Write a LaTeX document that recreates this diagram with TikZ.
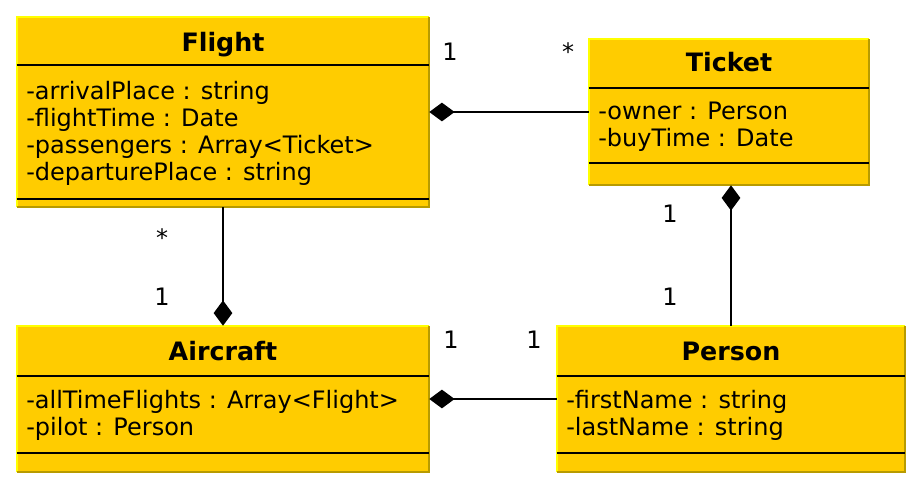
\documentclass[tikz,border=0pt]{standalone}
\usepackage{fontspec}
\setmainfont{DejaVu Sans}
\usetikzlibrary{arrows.meta}
\definecolor{umlfill}{HTML}{FFCC00}
\definecolor{umllight}{HTML}{FFFF00}
\definecolor{umlshade}{HTML}{B89B00}

\begin{document}
\begin{tikzpicture}[
    x=0.75pt, y=-0.75pt,
    font=\fontsize{18}{20.25}\selectfont,
    classbox/.style={fill=umlfill, inner sep=0pt},
    title/.style={anchor=base, inner sep=0pt, font=\fontsize{19}{22}\selectfont\bfseries},
    attrs/.style={anchor=base west, align=left, inner sep=0pt},
    mult/.style={anchor=base, inner sep=0pt},
    sep/.style={line width=1pt},
    assoc/.style={line width=1.1pt, -{Diamond[length=19pt, width=14pt]}},
  ]
    \useasboundingbox (0,0) rectangle (922,490);

    % classes
    \node[classbox, minimum width=309pt, minimum height=142.5pt] (flight)   at (223,112) {};
    \node[classbox, minimum width=210pt, minimum height=109.5pt] (ticket)   at (729,112) {};
    \node[classbox, minimum width=309pt, minimum height=109.5pt] (aircraft) at (223,399) {};
    \node[classbox, minimum width=261pt, minimum height=109.5pt] (person)   at (731,399) {};

    \foreach \c in {flight, ticket, aircraft, person} {
      \draw[umllight, line width=1.4pt] (\c.south west) |- (\c.north east);
      \draw[umlshade, line width=1.4pt] (\c.north east) |- (\c.south west);
    }

    % compartments
    \draw[sep] (flight.west |- 0,65) -- (flight.east |- 0,65);
    \draw[sep] (flight.west |- 0,199) -- (flight.east |- 0,199);
    \draw[sep] (ticket.west |- 0,88) -- (ticket.east |- 0,88);
    \draw[sep] (ticket.west |- 0,163) -- (ticket.east |- 0,163);
    \draw[sep] (aircraft.west |- 0,376) -- (aircraft.east |- 0,376);
    \draw[sep] (aircraft.west |- 0,453) -- (aircraft.east |- 0,453);
    \draw[sep] (person.west |- 0,376) -- (person.east |- 0,376);
    \draw[sep] (person.west |- 0,453) -- (person.east |- 0,453);

    % titles and attributes (base = last line)
    \node[title] (flight-name) at (223,51) {Flight};
    \node[attrs] (flight-attrs) at (26,180)
      {-arrivalPlace : string\\-flightTime : Date\\-passengers : Array<Ticket>\\-departurePlace : string};
    \node[title] (ticket-name) at (729,71) {Ticket};
    \node[attrs] (ticket-attrs) at (598,146)
      {-owner : Person\\-buyTime : Date};
    \node[title] (aircraft-name) at (223,360) {Aircraft};
    \node[attrs] (aircraft-attrs) at (26,435)
      {-allTimeFlights : Array<Flight>\\-pilot : Person};
    \node[title] (person-name) at (731,360) {Person};
    \node[attrs] (person-attrs) at (566,435)
      {-firstName : string\\-lastName : string};

    % associations
    \draw[assoc] (ticket) -- (flight);
    \draw[assoc] (flight) -- (aircraft);
    \draw[assoc] (person.north) -- (person.north |- ticket.south);
    \draw[assoc] (person) -- (aircraft);

    % multiplicities
    \node[mult] (m-ft1) at (450,60) {1};
    \node[mult] (m-ft2) at (568,60) {*};
    \node[mult] (m-fa1) at (162,246) {*};
    \node[mult] (m-fa2) at (162,305) {1};
    \node[mult] (m-tp1) at (670,222) {1};
    \node[mult] (m-tp2) at (670,305) {1};
    \node[mult] (m-ap1) at (451,348) {1};
    \node[mult] (m-ap2) at (534,348) {1};
  \end{tikzpicture}
\end{document}
